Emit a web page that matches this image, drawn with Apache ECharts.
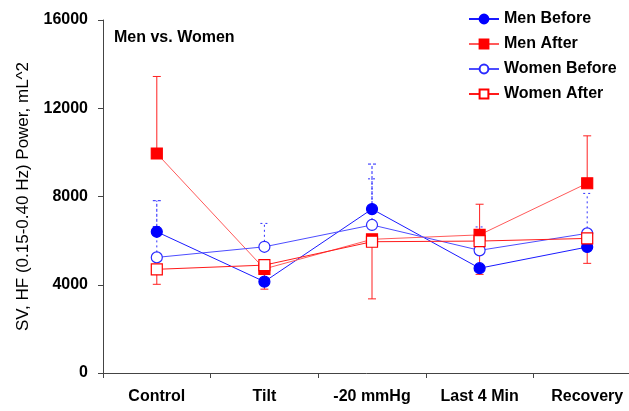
<!DOCTYPE html>
<html>
<head>
<meta charset="utf-8">
<script src="https://cdn.jsdelivr.net/npm/echarts@6/dist/echarts.min.js"></script>
<style>
html,body{margin:0;padding:0;background:#fff;}
#c{width:629px;height:411px;}
</style>
</head>
<body>
<div id="c"></div>
<script>
const categories = ['Control', 'Tilt', '-20 mmHg', 'Last 4 Min', 'Recovery'];
const yTicks = [0, 4000, 8000, 12000, 16000];

const menBefore = [6400, 4140, 7430, 4750, 5710];
const menBeforeErrUp = [7810, null, 9470, null, null];
const menBeforeErrDown = [null, null, null, null, null];

const menAfter = [9950, 4720, 6060, 6260, 8600];
const menAfterErrUp = [13440, null, null, 7650, 10750];
const menAfterErrDown = [null, null, 3360, null, null];

const womenBefore = [5240, 5720, 6710, 5560, 6330];
const womenBeforeErrUp = [6640, 6780, 8800, 6620, 8140];
const womenBeforeErrDown = [null, null, null, null, null];

const womenAfter = [4700, 4890, 5950, 5980, 6100];
const womenAfterErrUp = [null, null, null, null, null];
const womenAfterErrDown = [4020, 3800, null, 4470, 4970];

const FONT = 'Arial, "Liberation Sans", sans-serif';

function errData(vals, up, down) {
  const out = [];
  vals.forEach((v, i) => {
    if (up[i] != null) out.push([i, v, up[i]]);
    if (down[i] != null) out.push([i, v, down[i]]);
  });
  return out;
}

function errSeries(name, vals, up, down, color, dash) {
  return {
    type: 'custom',
    name: name + ' err',
    silent: true,
    z: 1,
    data: errData(vals, up, down),
    renderItem: function (params, api) {
      const p0 = api.coord([api.value(0), api.value(1)]);
      const p1 = api.coord([api.value(0), api.value(2)]);
      const cw = 4;
      return {
        type: 'group',
        children: [
          { type: 'line', shape: { x1: p0[0], y1: p0[1], x2: p1[0], y2: p1[1] }, style: { stroke: color, lineWidth: 1, lineDash: dash } },
          { type: 'line', shape: { x1: p1[0] - cw, y1: p1[1], x2: p1[0] + cw, y2: p1[1] }, style: { stroke: color, lineWidth: 1, lineDash: dash } }
        ]
      };
    }
  };
}

function lineSeries(name, vals, lineColor, symbol, filled, markColor) {
  return {
    type: 'line',
    name: name,
    data: vals,
    symbol: symbol,
    symbolSize: 11,
    showAllSymbol: true,
    z: 3,
    lineStyle: { color: lineColor, width: 1 },
    itemStyle: { color: filled ? markColor : '#ffffff', borderColor: markColor, borderWidth: 1.2 },
    emphasis: { disabled: true },
    animation: false
  };
}

const chart = echarts.init(document.getElementById('c'), null, { renderer: 'canvas' });
chart.setOption({
  animation: false,
  backgroundColor: '#ffffff',
  title: {
    text: 'Men vs. Women',
    left: 109, top: 25,
    textStyle: { fontFamily: FONT, fontSize: 16, fontWeight: 'bold', color: '#000' }
  },
  legend: {
    orient: 'vertical',
    left: 463, top: 6,
    itemWidth: 30, itemHeight: 11, itemGap: 9,
    data: ['Men Before', 'Men After', 'Women Before', 'Women After'],
    textStyle: { fontFamily: FONT, fontSize: 16, fontWeight: 'bold', color: '#000' },
    selectedMode: false
  },
  grid: { left: 103, top: 20, width: 538, height: 353, containLabel: false, outerBoundsMode: 'none' },
  xAxis: {
    type: 'category',
    data: categories,
    boundaryGap: true,
    axisLine: { lineStyle: { color: '#444', width: 1 } },
    axisTick: { show: true, interval: 0, length: 5, lineStyle: { color: '#444' } },
    axisLabel: { fontFamily: FONT, fontSize: 16, fontWeight: 'bold', color: '#000', margin: 16, interval: 0 }
  },
  yAxis: {
    type: 'value',
    min: 0, max: 16000, interval: 4000,
    name: 'SV, HF (0.15-0.40 Hz) Power, mL^2',
    nameLocation: 'middle',
    nameGap: 71,
    nameRotate: 90,
    nameTextStyle: { fontFamily: FONT, fontSize: 17, color: '#000' },
    axisLine: { show: true, lineStyle: { color: '#444', width: 1 } },
    axisTick: { show: true, length: 5, lineStyle: { color: '#444' } },
    splitLine: { show: false },
    axisLabel: {
      fontFamily: FONT, fontSize: 16, fontWeight: 'bold', color: '#000', margin: 15,
      formatter: function (v) { return yTicks.indexOf(v) >= 0 ? String(v) : ''; }
    }
  },
  series: [
    errSeries('Men Before', menBefore, menBeforeErrUp, menBeforeErrDown, '#2020ff', [3, 2]),
    errSeries('Men After', menAfter, menAfterErrUp, menAfterErrDown, '#ff2020', null),
    errSeries('Women Before', womenBefore, womenBeforeErrUp, womenBeforeErrDown, '#3030ff', [2, 3]),
    errSeries('Women After', womenAfter, womenAfterErrUp, womenAfterErrDown, '#ff2020', null),
    lineSeries('Men Before', menBefore, '#1a1aff', 'circle', true, '#0000ff'),
    lineSeries('Men After', menAfter, '#ff5a5a', 'rect', true, '#ff0000'),
    lineSeries('Women Before', womenBefore, '#4d4dff', 'circle', false, '#2a2aff'),
    lineSeries('Women After', womenAfter, '#ff1a1a', 'rect', false, '#ff0000')
  ]
});
</script>
</body>
</html>
